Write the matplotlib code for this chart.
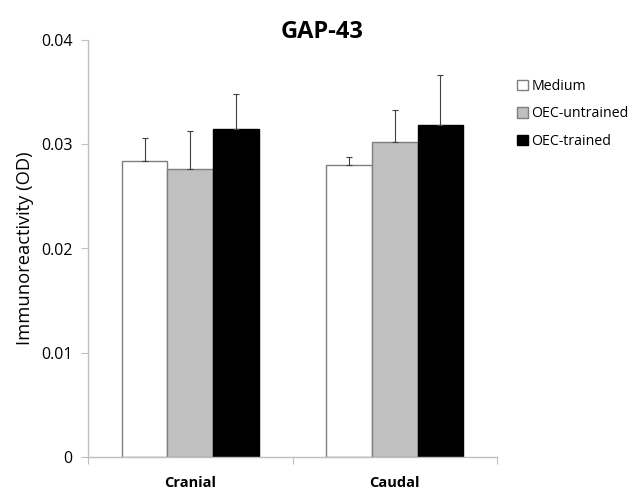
import matplotlib
matplotlib.use("Agg")
import matplotlib.pyplot as plt
import numpy as np

categories = ["Cranial", "Caudal"]
series_names = ["Medium", "OEC-untrained", "OEC-trained"]
medium = [0.0284, 0.0280]
untrained = [0.0276, 0.0302]
trained = [0.0315, 0.0318]
medium_err = [0.0022, 0.0008]
untrained_err = [0.0037, 0.0031]
trained_err = [0.0033, 0.0048]
yticks = [0, 0.01, 0.02, 0.03, 0.04]
ytick_labels = ["0", "0.01", "0.02", "0.03", "0.04"]

plt.rcParams['font.family'] = ['Open Sans', 'DejaVu Sans']

fig = plt.figure(figsize=(6.33, 4.94), dpi=100)
ax = fig.add_axes([88/633, 1-457/494, (497-88)/633, (457-40)/494])

values = [medium, untrained, trained]
errs = [medium_err, untrained_err, trained_err]
fills = ["white", "#c0c0c0", "black"]
edges = ["#7f7f7f", "#7f7f7f", "black"]
w = 0.2225
x = np.arange(len(categories))
for i in range(3):
    pos = x + (i - 1) * w
    ax.bar(pos, values[i], w, color=fills[i], edgecolor=edges[i], linewidth=1.0,
           label=series_names[i], zorder=2)
    ax.errorbar(pos, values[i], yerr=[np.zeros(len(x)), errs[i]], fmt="none",
                ecolor="#404040", elinewidth=0.8, capsize=2, capthick=0.8, zorder=3)

ax.set_xlim(-0.5, 1.5)
ax.set_ylim(0, 0.04)
ax.set_yticks(yticks)
ax.set_yticklabels(ytick_labels, fontsize=11.5)
ax.set_xticks([-0.5, 0.5, 1.5])
ax.set_xticklabels([])
ax.set_xticks(x, minor=True)
ax.set_xticklabels(categories, minor=True, fontsize=10.5, fontweight="bold")
ax.tick_params(axis="x", which="minor", length=0, pad=14)
ax.tick_params(axis="x", which="major", length=5, color="#bfbfbf", direction="out")
ax.tick_params(axis="y", length=5, color="#bfbfbf", direction="out", pad=6)
for s in ["top", "right"]:
    ax.spines[s].set_visible(False)
for s in ["left", "bottom"]:
    ax.spines[s].set_color("#bfbfbf")
    ax.spines[s].set_linewidth(1.0)
ax.set_ylabel("Immunoreactivity (OD)", fontsize=13.2, labelpad=5)

fig.text(0.508, 0.935, "GAP-43", ha="center", va="center", fontsize=17, fontweight="bold")

leg = ax.legend(loc="upper left", bbox_to_anchor=(1.035, 0.92), frameon=False,
                fontsize=10.2, handlelength=0.75, handleheight=0.75, handletextpad=0.25,
                labelspacing=0.88, borderaxespad=0)

fig.savefig("out.png", dpi=100)
